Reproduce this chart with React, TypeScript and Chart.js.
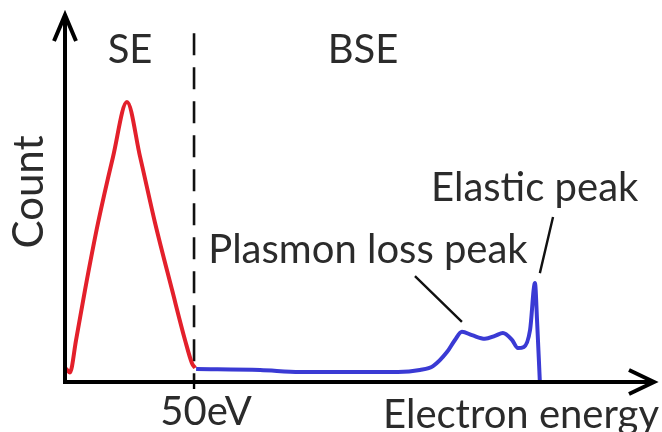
import React, { useEffect, useRef } from "react";
import { Chart, registerables } from "chart.js";

Chart.register(...registerables);

// Secondary electrons (SE) — energy in arbitrary units where the SE/BSE boundary is 50 (eV)
const seEnergy = [0.4, 1.9, 4.3, 7.75, 12.8, 18.6, 24, 29.1, 34.9, 41.5, 46.5, 49.2, 50.4];
const seCount = [3.6, 2.6, 11.4, 24.9, 43.1, 61, 75.9, 61, 43.1, 24.9, 11.4, 5.1, 3.8];

// Backscattered electrons (BSE)
const bseEnergy = [50.8, 75.6, 91, 129, 137.5, 142.6, 148, 151.1, 153.8, 157.7, 162.7, 166.6, 169.7, 173.2, 175.5, 177.8, 180.2, 182.1, 182.9, 184];
const bseCount = [3.5, 3.25, 2.7, 2.7, 3.25, 4.3, 8.1, 11.4, 13.6, 12.7, 11.7, 12.5, 13.3, 11.4, 9.2, 9.5, 14.1, 26.8, 16.8, 0];

const boundaryEnergy = 50;
const boundaryLabel = "50eV";
const xAxisTitle = "Electron energy";
const yAxisTitle = "Count";
const regionLabels = ["SE", "BSE"];
const peakLabels = ["Plasmon loss peak", "Elastic peak"];

const X_MAX = 229;
const Y_MAX = 100;

const FONT = "Lato, 'Open Sans', sans-serif";
const TEXT = "#2b2b2b";

const overlayPlugin = {
  id: "overlay",
  beforeDatasetsDraw(chart: any) {
    const { ctx, scales } = chart;
    const x = scales.x, y = scales.y;
    const bx = x.getPixelForValue(boundaryEnergy);
    ctx.save();
    ctx.strokeStyle = "#111";
    ctx.lineWidth = 2.6;
    ctx.setLineDash([22, 12]);
    ctx.beginPath();
    ctx.moveTo(bx, y.getPixelForValue(94.5));
    ctx.lineTo(bx, y.getPixelForValue(0));
    ctx.stroke();
    ctx.restore();
  },
  afterDatasetsDraw(chart: any) {
    const { ctx, scales } = chart;
    const x = scales.x, y = scales.y;
    const x0 = x.getPixelForValue(0);
    const y0 = y.getPixelForValue(0);
    const xEnd = x.getPixelForValue(X_MAX);
    const yEnd = y.getPixelForValue(Y_MAX);
    ctx.save();
    // axes
    ctx.strokeStyle = "#000";
    ctx.lineWidth = 4;
    ctx.lineCap = "butt";
    ctx.beginPath();
    ctx.moveTo(x0, y0 + 2);
    ctx.lineTo(x0, yEnd + 2);
    ctx.moveTo(x0 - 2, y0);
    ctx.lineTo(xEnd - 2, y0);
    ctx.stroke();
    // arrow heads
    ctx.lineJoin = "miter";
    ctx.lineWidth = 4;
    ctx.beginPath();
    ctx.moveTo(x0 - 11, yEnd + 28);
    ctx.lineTo(x0, yEnd + 2);
    ctx.lineTo(x0 + 11, yEnd + 28);
    ctx.moveTo(xEnd - 27, y0 - 12);
    ctx.lineTo(xEnd - 2, y0);
    ctx.lineTo(xEnd - 27, y0 + 12);
    ctx.stroke();
    // tick at boundary
    const bx = x.getPixelForValue(boundaryEnergy);
    ctx.lineWidth = 2.4;
    ctx.beginPath();
    ctx.moveTo(bx, y0);
    ctx.lineTo(bx, y0 + 7);
    ctx.stroke();

    // pointer lines
    ctx.strokeStyle = "#111";
    ctx.lineWidth = 2.4;
    ctx.beginPath();
    ctx.moveTo(x.getPixelForValue(135.6), y.getPixelForValue(28.7));
    ctx.lineTo(x.getPixelForValue(153.8), y.getPixelForValue(16.3));
    ctx.moveTo(x.getPixelForValue(189.1), y.getPixelForValue(44.7));
    ctx.lineTo(x.getPixelForValue(184), y.getPixelForValue(29.5));
    ctx.stroke();

    // texts
    ctx.fillStyle = TEXT;
    ctx.textBaseline = "alphabetic";
    ctx.font = `40px ${FONT}`;
    ctx.textAlign = "center";
    ctx.fillText(regionLabels[0], x.getPixelForValue(25.2), y.getPixelForValue(86.4));
    ctx.fillText(regionLabels[1], x.getPixelForValue(115.5), y.getPixelForValue(86.4));
    ctx.fillText(peakLabels[0], x.getPixelForValue(117.4), y.getPixelForValue(32.2));
    ctx.fillText(peakLabels[1], x.getPixelForValue(182), y.getPixelForValue(49));
    ctx.fillText(boundaryLabel, bx + 12, y0 + 43);
    ctx.textAlign = "right";
    ctx.fillText(xAxisTitle, xEnd + 3, y0 + 46);
    ctx.save();
    ctx.font = `42px ${FONT}`;
    ctx.translate(x0 - 22, y.getPixelForValue(51.5));
    ctx.rotate(-Math.PI / 2);
    ctx.textAlign = "center";
    ctx.fillText(yAxisTitle, 0, 0);
    ctx.restore();
    ctx.restore();
  },
};

export default function App() {
  const ref = useRef<HTMLCanvasElement | null>(null);
  useEffect(() => {
    document.body.style.margin = "0";
    document.body.style.background = "#fff";
    const canvas = ref.current;
    if (!canvas) return;
    const chart = new Chart(canvas, {
      type: "line",
      data: {
        datasets: [
          {
            label: regionLabels[0],
            data: seEnergy.map((e, i) => ({ x: e, y: seCount[i] })),
            borderColor: "#e3202b",
            borderWidth: 4,
            pointRadius: 0,
            cubicInterpolationMode: "monotone",
            fill: false,
          },
          {
            label: regionLabels[1],
            data: bseEnergy.map((e, i) => ({ x: e, y: bseCount[i] })),
            borderColor: "#3a3ad4",
            borderWidth: 4,
            pointRadius: 0,
            cubicInterpolationMode: "monotone",
            fill: false,
          },
        ],
      },
      options: {
        responsive: false,
        animation: false,
        layout: { padding: { left: 65, right: 6, top: 13, bottom: 50 } },
        plugins: { legend: { display: false }, tooltip: { enabled: false } },
        scales: {
          x: { type: "linear", min: 0, max: X_MAX, display: false },
          y: { type: "linear", min: 0, max: Y_MAX, display: false },
        },
      },
      plugins: [overlayPlugin],
    });
    return () => chart.destroy();
  }, []);
  return (
    <div style={{ width: 662, height: 432, background: "#fff" }}>
      <canvas ref={ref} width={662} height={432} style={{ display: "block" }} />
    </div>
  );
}
